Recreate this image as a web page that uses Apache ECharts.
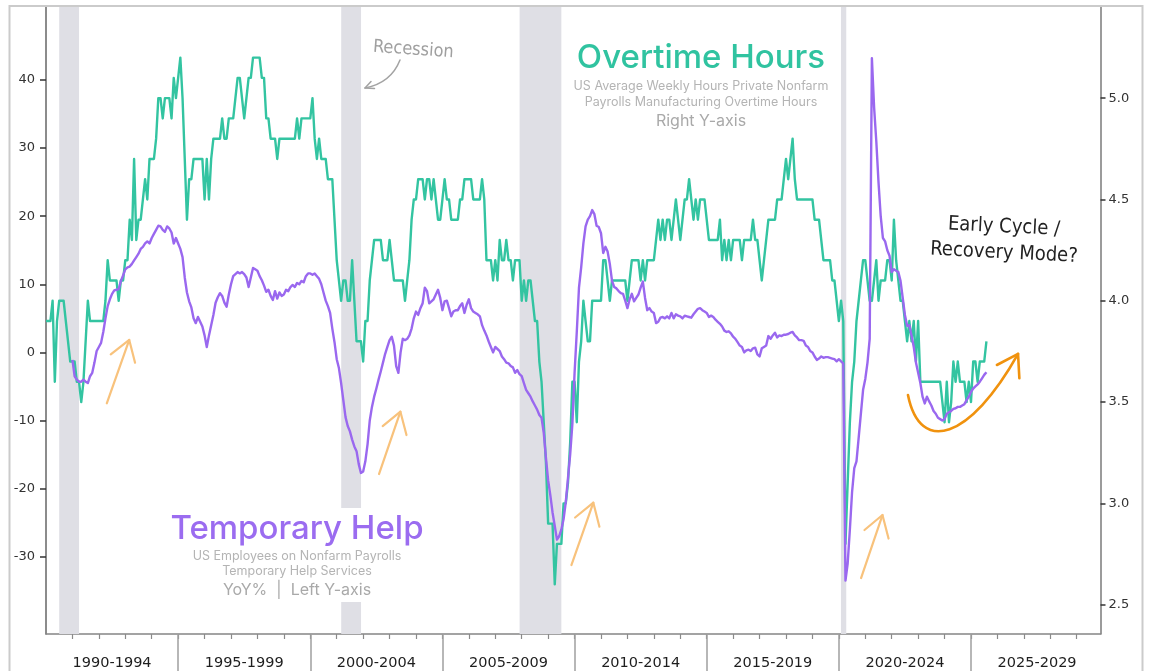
<!DOCTYPE html>
<html>
<head>
<meta charset="utf-8">
<title>Temporary Help vs Overtime Hours</title>
<script src="https://cdn.jsdelivr.net/npm/echarts@6.0.0/dist/echarts.min.js"></script>
<style>
html,body{margin:0;padding:0;background:#ffffff;}
#chart{width:1152px;height:671px;}
</style>
</head>
<body>
<div id="chart"></div>
<script>
// ---------------- DATA ----------------
// US manufacturing overtime hours, monthly from Jan 1990 (right axis)
const overtimeStartYear = 1990;
const overtimeHours = [
  3.9,3.9,3.9,4.0,3.6,3.9,4.0,4.0,4.0,3.9,3.8,3.7, // 1990
  3.7,3.7,3.6,3.6,3.5,3.6,3.8,4.0,3.9,3.9,3.9,3.9, // 1991
  3.9,3.9,3.9,4.0,4.2,4.1,4.1,4.1,4.1,4.0,4.1,4.1, // 1992
  4.2,4.2,4.4,4.3,4.7,4.3,4.4,4.4,4.5,4.6,4.5,4.7, // 1993
  4.7,4.7,4.8,5.0,5.0,4.9,5.0,5.0,5.0,4.9,5.1,5.0, // 1994
  5.1,5.2,5.0,4.7,4.4,4.6,4.6,4.7,4.7,4.7,4.7,4.7, // 1995
  4.5,4.7,4.5,4.7,4.8,4.8,4.8,4.8,4.9,4.8,4.8,4.9, // 1996
  4.9,4.9,5.0,5.1,5.1,5.0,4.9,5.0,5.1,5.1,5.2,5.2, // 1997
  5.2,5.2,5.1,5.1,4.9,4.9,4.8,4.8,4.8,4.7,4.8,4.8, // 1998
  4.8,4.8,4.8,4.8,4.8,4.8,4.9,4.8,4.9,4.9,4.9,4.9, // 1999
  4.9,5.0,4.8,4.7,4.8,4.7,4.7,4.7,4.6,4.6,4.6,4.4, // 2000
  4.2,4.1,4.0,4.1,4.1,4.0,4.0,4.2,4.0,3.8,3.8,3.8, // 2001
  3.7,3.9,3.9,4.1,4.2,4.3,4.3,4.3,4.3,4.2,4.2,4.2, // 2002
  4.3,4.2,4.1,4.1,4.1,4.1,4.1,4.0,4.1,4.2,4.4,4.5, // 2003
  4.5,4.6,4.6,4.6,4.5,4.6,4.6,4.5,4.6,4.5,4.4,4.4, // 2004
  4.5,4.6,4.5,4.5,4.4,4.4,4.4,4.4,4.5,4.5,4.6,4.6, // 2005
  4.6,4.6,4.5,4.5,4.5,4.5,4.6,4.5,4.2,4.2,4.2,4.1, // 2006
  4.2,4.1,4.3,4.2,4.2,4.3,4.2,4.2,4.1,4.2,4.2,4.2, // 2007
  4.0,4.1,4.0,4.1,4.1,4.0,3.9,3.9,3.7,3.6,3.4,3.2, // 2008
  2.9,2.9,2.9,2.6,2.8,2.8,2.8,3.0,3.0,3.1,3.3,3.6, // 2009
  3.6,3.4,3.7,3.8,4.0,3.9,3.8,3.8,4.0,4.0,4.0,4.0, // 2010
  4.0,4.2,4.2,4.1,4.0,4.1,4.1,4.1,4.1,4.1,4.1,4.1, // 2011
  4.0,4.1,4.2,4.2,4.2,4.2,4.1,4.2,4.1,4.2,4.2,4.2, // 2012
  4.2,4.3,4.4,4.3,4.4,4.3,4.4,4.4,4.3,4.4,4.5,4.4, // 2013
  4.3,4.4,4.5,4.5,4.6,4.5,4.4,4.5,4.4,4.5,4.5,4.5, // 2014
  4.4,4.3,4.3,4.3,4.3,4.3,4.4,4.2,4.3,4.2,4.3,4.2, // 2015
  4.3,4.3,4.3,4.3,4.2,4.3,4.3,4.3,4.3,4.4,4.3,4.3, // 2016
  4.2,4.1,4.2,4.3,4.4,4.4,4.4,4.4,4.5,4.5,4.5,4.6, // 2017
  4.7,4.6,4.7,4.8,4.6,4.5,4.5,4.5,4.5,4.5,4.5,4.5, // 2018
  4.5,4.4,4.4,4.4,4.3,4.2,4.2,4.2,4.2,4.1,4.1,4.0, // 2019
  3.9,4.0,3.9,2.8,3.1,3.4,3.6,3.7,3.9,4.0,4.1,4.2, // 2020
  4.2,4.1,4.0,4.0,4.1,4.2,4.0,4.1,4.1,4.1,4.2,4.2, // 2021
  4.1,4.4,4.2,4.1,4.0,4.0,3.9,3.8,3.9,3.8,3.9,3.7, // 2022
  3.9,3.6,3.6,3.6,3.6,3.6,3.6,3.6,3.6,3.6,3.6,3.5, // 2023
  3.4,3.6,3.4,3.5,3.7,3.6,3.7,3.6,3.6,3.6,3.5,3.6, // 2024
  3.5,3.7,3.7,3.6,3.7,3.7,3.7,3.8                  // 2025
];

// US temporary help services employment, YoY %, monthly from Jan 1991 (left axis)
const tempHelpStartYear = 1991;
const tempHelpYoY = [
  -1.1,-3.5,-4.0,-4.3,-4.3,-4.0,-4.3,-4.5,-3.5,-3.0,-1.5,0.2,     // 1991
  0.8,1.4,3.0,5.0,6.8,7.8,8.6,9.1,9.2,9.3,10.5,11.3,              // 1992
  12.2,12.5,12.6,13.0,13.5,14.0,14.5,15.2,15.5,16.0,16.3,16.0,    // 1993
  16.8,17.4,18.0,18.6,18.5,18.0,17.7,18.5,18.2,17.6,16.0,16.8,    // 1994
  16.0,15.2,14.0,11.0,8.8,7.5,6.6,5.0,4.3,5.2,4.5,3.8,            // 1995
  2.5,0.8,2.5,4.0,5.5,7.3,8.1,8.7,8.3,7.3,6.7,8.5,                // 1996
  10.0,11.2,11.5,11.8,11.6,11.8,11.5,11.0,9.6,11.0,12.4,12.2,     // 1997
  12.0,11.2,10.6,9.8,8.9,9.2,8.3,7.7,9.0,7.9,8.8,8.3,             // 1998
  8.5,9.2,9.0,9.6,9.9,9.6,10.2,10.0,10.5,10.3,11.2,11.6,          // 1999
  11.6,11.4,11.6,11.2,10.8,10.0,8.8,7.6,6.8,5.8,3.5,1.5,          // 2000
  -1.0,-2.3,-4.5,-7.0,-9.5,-10.8,-11.6,-12.8,-13.8,-14.5,-16.4,-17.7, // 2001
  -17.5,-16.0,-13.5,-10.0,-8.0,-6.5,-5.3,-4.0,-2.8,-1.5,-0.2,0.8, // 2002
  1.8,2.3,1.0,-2.0,-3.0,0.0,2.0,1.8,2.0,2.5,3.5,5.0,              // 2003
  6.0,5.5,6.5,7.2,9.5,9.0,7.2,7.5,7.8,8.5,9.2,8.0,                // 2004
  6.2,7.5,7.6,6.5,5.3,6.0,6.2,6.2,6.8,7.2,5.8,7.0,                // 2005
  7.8,6.5,6.0,5.8,5.6,5.3,4.0,3.2,2.5,1.6,0.8,0.0,                // 2006
  0.8,0.5,0.2,-0.6,-1.0,-1.5,-1.6,-2.0,-2.2,-3.0,-2.6,-3.2,       // 2007
  -3.5,-4.5,-5.5,-6.0,-6.5,-7.2,-7.8,-8.4,-9.2,-9.6,-11.8,-15.5,  // 2008
  -18.8,-21.0,-23.5,-25.5,-27.5,-27.0,-26.0,-24.5,-22.0,-18.5,-15.0,-10.5, // 2009
  -3.0,3.0,9.5,12.5,16.0,18.5,19.5,20.0,20.9,20.3,18.6,18.4,      // 2010
  17.5,14.6,15.5,14.8,13.0,10.5,9.6,9.4,9.0,8.7,8.6,7.6,          // 2011
  6.5,7.8,8.6,7.5,8.0,8.5,9.5,10.4,8.0,6.2,6.5,6.0,               // 2012
  5.8,4.3,4.5,5.1,5.2,5.0,5.3,5.0,5.8,5.0,5.6,5.4,                // 2013
  5.3,5.0,5.4,5.3,5.2,5.1,5.6,6.0,6.4,6.5,6.2,6.0,                // 2014
  5.8,5.2,5.4,5.2,4.8,4.5,4.2,3.8,3.2,3.0,3.1,2.8,                // 2015
  2.3,2.0,1.5,1.0,0.8,0.0,0.3,0.4,0.2,0.6,0.7,-0.3,               // 2016
  -0.6,0.6,0.8,1.0,2.4,2.0,2.5,2.9,2.2,2.5,2.4,2.6,               // 2017
  2.6,2.7,2.9,3.0,2.5,2.2,1.8,1.8,1.7,1.0,0.8,0.2,                // 2018
  0.0,-0.6,-1.1,-0.9,-0.6,-0.8,-0.7,-0.7,-0.8,-0.9,-1.0,-1.3,     // 2019
  -1.0,-1.3,-1.6,-33.5,-31.0,-26.0,-20.5,-17.0,-16.0,-12.5,-9.0,-5.5, // 2020
  -3.9,-1.5,2.0,43.2,36.0,31.0,25.0,20.0,16.8,16.3,15.0,14.2,     // 2021
  11.8,12.2,12.0,11.8,10.5,8.0,5.5,3.9,4.0,2.5,0.8,-1.5,          // 2022
  -3.0,-4.5,-6.5,-7.5,-6.5,-7.2,-7.8,-8.6,-9.0,-9.6,-9.8,-10.0,   // 2023
  -9.8,-9.0,-8.8,-8.6,-8.3,-8.2,-8.0,-8.0,-7.8,-7.6,-7.0,-6.5,    // 2024
  -5.8,-5.3,-5.0,-4.7,-4.3,-3.8,-3.3,-2.9                         // 2025
];

// NBER recessions [start, end] as decimal years
const recessions = [[1990.5, 1991.25], [2001.17, 2001.92], [2007.92, 2009.5], [2020.08, 2020.28]];

// x-axis periods and tick labels
const periodStarts = [1990, 1995, 2000, 2005, 2010, 2015, 2020, 2025];
const periodLabels = ['1990-1994', '1995-1999', '2000-2004', '2005-2009', '2010-2014', '2015-2019', '2020-2024', '2025-2029'];
const leftTickValues = [-30, -20, -10, 0, 10, 20, 30, 40];
const rightTickValues = [2.5, 3.0, 3.5, 4.0, 4.5, 5.0];

// ---------------- ANNOTATIONS (in [year, left-axis %]) ----------------
const recoveryArrows = [ // tail, head, wingA, wingB
  [[1992.30, -7.47], [1993.15, 1.83], [1992.45, -0.28], [1993.37, -1.51]],
  [[2002.60, -17.86], [2003.41, -8.71], [2002.74, -10.81], [2003.64, -12.13]],
  [[2009.88, -31.22], [2010.71, -22.07], [2010.02, -24.24], [2010.94, -25.59]],
  [[2020.84, -33.13], [2021.65, -23.88], [2020.97, -26.08], [2021.88, -27.33]]
];
const recoveryCurve = [[2022.615, -6.26], [2023.07, -15.07], [2024.96, -12.86], [2026.78, -0.23]];
const recoveryCurveHead = [[2025.98, -1.85], [2026.78, -0.23], [2026.83, -3.80]];

// ---------------- CHART ----------------
const TEAL = '#33c4a1';
const PURPLE = '#9a68ef';
const AXIS_FONT = 'DejaVu Sans, Verdana, sans-serif';
const HAND_FONT = "'Liberation Sans Narrow', 'DejaVu Sans Condensed', 'Roboto', sans-serif";

const overtimeSeries = overtimeHours.map((v, i) => [overtimeStartYear + i / 12, v]);
const tempHelpSeries = tempHelpYoY.map((v, i) => [tempHelpStartYear + i / 12, v]);

const yearTicks = [];
for (let y = periodStarts[0] + 1; y < periodStarts[periodStarts.length - 1] + 5; y++) yearTicks.push(y);
const periodCenters = periodStarts.map(s => s + 2.5);

const chart = echarts.init(document.getElementById('chart'), null, { renderer: 'canvas' });

const option = {
  animation: false,
  backgroundColor: '#ffffff',
  grid: { left: 46, top: 7, width: 1054.5, height: 627, containLabel: false },
  xAxis: [
    {
      type: 'value', min: 1990, max: 2029.9, position: 'bottom',
      axisLine: { show: true, onZero: false, lineStyle: { color: '#858585', width: 1.5 } },
      axisTick: { show: true, customValues: yearTicks, length: 5, lineStyle: { color: '#8a8a8a', width: 1.2 } },
      axisLabel: {
        show: true, customValues: periodCenters, margin: 22,
        fontSize: 14.5, color: '#1e1e1e', fontFamily: AXIS_FONT,
        formatter: v => {
          const idx = periodCenters.findIndex(c => Math.abs(c - v) < 0.01);
          return idx >= 0 ? periodLabels[idx] : '';
        }
      },
      splitLine: { show: false }
    },
    {
      type: 'value', min: 1990, max: 2029.9, position: 'bottom', gridIndex: 0,
      axisLine: { show: false, onZero: false },
      axisTick: { show: true, customValues: periodStarts.slice(1), length: 40, lineStyle: { color: '#a0a0a0', width: 1.5 } },
      axisLabel: { show: false },
      splitLine: { show: false }
    }
  ],
  yAxis: [
    {
      type: 'value', position: 'left', min: -41.35, max: 50.72,
      axisLine: { show: true, onZero: false, lineStyle: { color: '#666', width: 1.5 } },
      axisTick: { show: true, customValues: leftTickValues, length: 6, lineStyle: { color: '#333', width: 1.5 } },
      axisLabel: { customValues: leftTickValues, margin: 11, fontSize: 13, color: '#333', fontFamily: AXIS_FONT },
      splitLine: { show: false }
    },
    {
      type: 'value', position: 'right', min: 2.355, max: 5.45,
      axisLine: { show: true, onZero: false, lineStyle: { color: '#7a7a7a', width: 1.5 } },
      axisTick: { show: true, customValues: rightTickValues, length: 5, lineStyle: { color: '#333', width: 1.5 } },
      axisLabel: { customValues: rightTickValues, margin: 8, fontSize: 13, color: '#333', fontFamily: AXIS_FONT,
        formatter: v => v.toFixed(1) },
      splitLine: { show: false }
    }
  ],
  series: [
    {
      name: 'Overtime Hours', type: 'line', xAxisIndex: 0, yAxisIndex: 1,
      data: overtimeSeries, showSymbol: false, z: 2,
      lineStyle: { color: TEAL, width: 2.4, join: 'round' },
      itemStyle: { color: TEAL },
      markArea: {
        silent: true, z: 1,
        itemStyle: { color: '#dfdfe5' },
        data: recessions.map(r => [{ xAxis: r[0] }, { xAxis: r[1] }])
      }
    },
    {
      name: 'Temporary Help', type: 'line', xAxisIndex: 0, yAxisIndex: 0,
      data: tempHelpSeries, showSymbol: false, z: 3,
      lineStyle: { color: PURPLE, width: 2.4, join: 'round' },
      itemStyle: { color: PURPLE }
    }
  ]
};
chart.setOption(option);

// ---------- decorations ----------
const P = (pt) => chart.convertToPixel({ xAxisIndex: 0, yAxisIndex: 0 }, pt);

function textEl(text, x, y, font, fill, align, extra) {
  return Object.assign({
    type: 'text', x: x, y: y, z: 20,
    style: { text: text, font: font, fill: fill, align: align || 'center', textAlign: align || 'center',
             verticalAlign: 'middle', textVerticalAlign: 'middle' }
  }, extra || {});
}

const graphics = [];
// white plate behind the Temporary Help block
graphics.push({ type: 'rect', z: 1.5, shape: { x: 168, y: 508, width: 262, height: 94 }, style: { fill: '#ffffff' } });

// titles
graphics.push(textEl('Overtime Hours', 701, 58, '500 33px Inter, sans-serif', '#30c3a0'));
graphics.push(textEl('US Average Weekly Hours Private Nonfarm', 701, 86, '12.5px Inter, sans-serif', '#b4b4b4'));
graphics.push(textEl('Payrolls Manufacturing Overtime Hours', 701, 102, '12.5px Inter, sans-serif', '#b4b4b4'));
graphics.push(textEl('Right Y-axis', 701, 121, '16px Inter, sans-serif', '#a9a9a9'));

graphics.push(textEl('Temporary Help', 297, 529, '500 33px Inter, sans-serif', '#9b6cf0'));
graphics.push(textEl('US Employees on Nonfarm Payrolls', 297, 556, '12.5px Inter, sans-serif', '#b4b4b4'));
graphics.push(textEl('Temporary Help Services', 297, 571, '12.5px Inter, sans-serif', '#b4b4b4'));
graphics.push(textEl('YoY%  |  Left Y-axis', 297, 590, '16px Inter, sans-serif', '#a9a9a9'));

// hand-drawn style notes
graphics.push(textEl('Recession', 373, 47, '18px ' + HAND_FONT, '#a0a0a0', 'left', { rotation: -0.07 }));
graphics.push({ type: 'bezierCurve', z: 20, shape: { x1: 400, y1: 60, cpx1: 391, cpy1: 83, x2: 365, y2: 88 },
  style: { stroke: '#a3a3a3', lineWidth: 1.5, fill: null, lineCap: 'round' } });
graphics.push({ type: 'polyline', z: 20, shape: { points: [[371, 81.5], [365, 88], [374.5, 88.5]] },
  style: { stroke: '#a3a3a3', lineWidth: 1.5, fill: null, lineCap: 'round', lineJoin: 'round' } });

graphics.push(textEl('Early Cycle /', 1004, 227, '20px ' + HAND_FONT, '#222', 'center', { rotation: -0.05 }));
graphics.push(textEl('Recovery Mode?', 1004, 253, '20px ' + HAND_FONT, '#222', 'center', { rotation: -0.05 }));

// light orange recovery arrows
recoveryArrows.forEach(a => {
  const [t, h, wa, wb] = a.map(P);
  graphics.push({ type: 'polyline', z: 20, shape: { points: [t, h] },
    style: { stroke: '#f8c27c', lineWidth: 2.2, fill: null, lineCap: 'round' } });
  graphics.push({ type: 'polyline', z: 20, shape: { points: [wa, h, wb] },
    style: { stroke: '#f8c27c', lineWidth: 2.2, fill: null, lineCap: 'round', lineJoin: 'round' } });
});

// dark orange "smile" curve
{
  const [p0, p1, p2, p3] = recoveryCurve.map(P);
  graphics.push({ type: 'bezierCurve', z: 20,
    shape: { x1: p0[0], y1: p0[1], cpx1: p1[0], cpy1: p1[1], cpx2: p2[0], cpy2: p2[1], x2: p3[0], y2: p3[1] },
    style: { stroke: '#f0920e', lineWidth: 2.6, fill: null, lineCap: 'round' } });
  graphics.push({ type: 'polyline', z: 20, shape: { points: recoveryCurveHead.map(P) },
    style: { stroke: '#f0920e', lineWidth: 2.6, fill: null, lineCap: 'round', lineJoin: 'round' } });
}

// outer frame
graphics.push({ type: 'rect', z: 30, shape: { x: 9.5, y: 6, width: 1133, height: 700 },
  style: { fill: null, stroke: '#cbcbcb', lineWidth: 2 } });

chart.setOption({ graphic: graphics });
</script>
</body>
</html>
